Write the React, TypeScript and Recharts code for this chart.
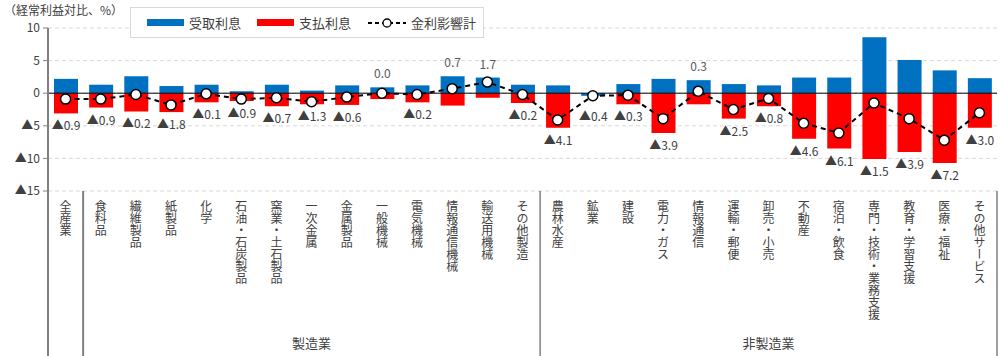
import React from "react";
import {
  ComposedChart,
  Bar,
  Line,
  XAxis,
  YAxis,
  CartesianGrid,
  ReferenceLine,
  LabelList,
} from "recharts";

const categories = [
  "全産業", "食料品", "繊維製品", "紙製品", "化学", "石油・石炭製品", "窯業・土石製品",
  "一次金属", "金属製品", "一般機械", "電気機械", "情報通信機械", "輸送用機械", "その他製造",
  "農林水産", "鉱業", "建設", "電力・ガス", "情報通信", "運輸・郵便", "卸売・小売", "不動産",
  "宿泊・飲食", "専門・技術・業務支援", "教育・学習支援", "医療・福祉", "その他サービス",
];
// 受取利息
const received = [2.2, 1.3, 2.6, 1.1, 1.3, 0.3, 1.3, 0.4, 1.2, 0.9, 1.2, 2.6, 2.4, 1.3, 1.2, -0.4, 1.4, 2.2, 2.0, 1.4, 1.2, 2.4, 2.4, 8.6, 5.1, 3.5, 2.3];
// 支払利息
const paid = [-3.1, -2.2, -2.8, -2.9, -1.4, -1.2, -2.0, -1.7, -1.8, -0.9, -1.4, -1.9, -0.7, -1.5, -5.3, 0, -1.7, -6.1, -1.7, -3.9, -2.0, -7.0, -8.5, -10.1, -9.0, -10.7, -5.3];
// 金利影響計
const net = [-0.9, -0.9, -0.2, -1.8, -0.1, -0.9, -0.7, -1.3, -0.6, 0.0, -0.2, 0.7, 1.7, -0.2, -4.1, -0.4, -0.3, -3.9, 0.3, -2.5, -0.8, -4.6, -6.1, -1.5, -3.9, -7.2, -3.0];
const groups = [
  { name: "製造業", from: 1, to: 13 },
  { name: "非製造業", from: 14, to: 26 },
];
const yTicks = [10, 5, 0, -5, -10, -15];

const FONT = '"Noto Sans CJK JP", "Noto Sans", sans-serif';
const W = 1003;
const H = 356;
const LEFT = 48;
const RIGHT = 6;
const PLOT_W = W - LEFT - RIGHT;
const BAND = PLOT_W / categories.length;

const data = categories.map((name, i) => ({
  name,
  received: received[i],
  paid: paid[i],
  net: net[i],
}));

const fmt = (v: number) => (v < 0 ? "▲" + Math.abs(v).toFixed(1) : v.toFixed(1));

// find category index from a bar's x position (zero-height bars are skipped by the lib)
const idxOf = (x: number, width: number) => Math.floor((x + width / 2 - LEFT) / BAND);

function CategoryTick(props: any) {
  const { x, y, payload, index } = props;
  const bottom = H;
  const lines: React.ReactNode[] = [];
  if (index === 0) {
    lines.push(<line key="ax" x1={x - BAND / 2} x2={x - BAND / 2} y1={y} y2={bottom} stroke="#808080" strokeWidth={2} />);
    lines.push(<line key="s0" x1={x + BAND / 2} x2={x + BAND / 2} y1={y} y2={bottom} stroke="#808080" strokeWidth={2} />);
  }
  groups.forEach((g) => {
    if (index === g.to) {
      lines.push(<line key={"e" + g.name} x1={x + BAND / 2} x2={x + BAND / 2} y1={y} y2={bottom} stroke="#404040" strokeWidth={1} />);
    }
    if (index === g.from) {
      const cx = x + ((g.to - g.from) * BAND) / 2;
      lines.push(
        <text key={"g" + g.name} x={cx} y={y + 157} textAnchor="middle" fontSize={13} fill="#404040" fontFamily={FONT}>
          {g.name}
        </text>
      );
    }
  });
  return (
    <g>
      <text
        x={x}
        y={y + 9}
        fontSize={12}
        fill="#404040"
        fontFamily={FONT}
        style={{ writingMode: "vertical-rl" as any }}
      >
        {payload.value}
      </text>
      {lines}
    </g>
  );
}

function NegLabel(props: any) {
  const { x, y, width, height } = props;
  const i = idxOf(x, width);
  const v = net[i];
  if (v === undefined || v >= 0 || paid[i] === 0) return null;
  const bottom = Math.max(y, y + height);
  return (
    <text x={x + width / 2} y={bottom + 17} textAnchor="middle" fontSize={12} fill="#404040" fontFamily={FONT}>
      {fmt(v)}
    </text>
  );
}

function PosLabel(props: any) {
  const { x, y, width, height } = props;
  const i = idxOf(x, width);
  const v = net[i];
  if (v === undefined) return null;
  if (v < 0) {
    if (paid[i] !== 0) return null;
    // no red bar here: label sits under the (negative) blue bar
    const bottom = Math.max(y, y + height);
    return (
      <text x={x + width / 2} y={bottom + 25} textAnchor="middle" fontSize={12} fill="#404040" fontFamily={FONT}>
        {fmt(v)}
      </text>
    );
  }
  const top = Math.min(y, y + height);
  return (
    <text x={x + width / 2} y={top - 9} textAnchor="middle" fontSize={12} fill="#595959" fontFamily={FONT}>
      {fmt(v)}
    </text>
  );
}

function LegendBox() {
  const item = { display: "flex", alignItems: "center" } as const;
  return (
    <div
      style={{
        position: "absolute",
        left: 130,
        top: 7,
        width: 354,
        height: 31,
        boxSizing: "border-box",
        border: "1px solid #d9d9d9",
        background: "#fff",
        display: "flex",
        alignItems: "center",
        fontFamily: FONT,
        fontSize: 13,
        color: "#404040",
      }}
    >
      <div style={{ ...item, marginLeft: 16 }}>
        <span style={{ width: 37, height: 7, background: "#0070C0", marginRight: 5 }} />
        受取利息
      </div>
      <div style={{ ...item, marginLeft: 16 }}>
        <span style={{ width: 37, height: 7, background: "#FF0000", marginRight: 5 }} />
        支払利息
      </div>
      <div style={{ ...item, marginLeft: 16 }}>
        <svg width={40} height={12} style={{ marginRight: 4 }}>
          <line x1={1} x2={39} y1={6} y2={6} stroke="#000" strokeWidth={2} strokeDasharray="4 3" />
          <circle cx={20} cy={6} r={4} fill="#fff" stroke="#000" strokeWidth={1.3} />
        </svg>
        金利影響計
      </div>
    </div>
  );
}

export default function App() {
  return (
    <div style={{ position: "absolute", left: 0, top: 0, width: W, height: H, background: "#fff" }}>
      <div
        style={{
          position: "absolute",
          left: 4,
          top: 4,
          lineHeight: 1,
          fontFamily: FONT,
          fontSize: 12,
          color: "#404040",
        }}
      >
        （経常利益対比、%）
      </div>
      <ComposedChart
        width={W}
        height={H}
        data={data}
        stackOffset="sign"
        margin={{ top: 28, right: RIGHT, left: 0, bottom: 0 }}
        barSize={24}
      >
        <CartesianGrid vertical={false} stroke="#d9d9d9" strokeDasharray="4 3" />
        <XAxis
          dataKey="name"
          interval={0}
          axisLine={false}
          tickLine={false}
          tickSize={0}
          tickMargin={0}
          height={H - 28 - 163}
          tick={<CategoryTick />}
        />
        <YAxis
          domain={[-15, 10]}
          ticks={yTicks}
          width={LEFT}
          tickFormatter={(v: number) => (v < 0 ? "▲" + Math.abs(v) : String(v))}
          tick={{ fill: "#404040", fontSize: 12, fontFamily: FONT }}
          axisLine={{ stroke: "#808080", strokeWidth: 2 }}
          tickLine={{ stroke: "#808080" }}
          tickSize={5}
          tickMargin={3}
        />
        <Bar dataKey="received" stackId="a" fill="#0070C0" isAnimationActive={false}>
          <LabelList dataKey="received" content={<PosLabel />} />
        </Bar>
        <Bar dataKey="paid" stackId="a" fill="#FF0000" isAnimationActive={false}>
          <LabelList dataKey="paid" content={<NegLabel />} />
        </Bar>
        <ReferenceLine y={0} stroke="#000" strokeWidth={1} />
        <Line
          dataKey="net"
          stroke="#000"
          strokeWidth={2}
          strokeDasharray="5 4"
          dot={{ r: 5, fill: "#fff", stroke: "#000", strokeWidth: 1.5, strokeDasharray: "" }}
          isAnimationActive={false}
        />
      </ComposedChart>
      <LegendBox />
    </div>
  );
}
